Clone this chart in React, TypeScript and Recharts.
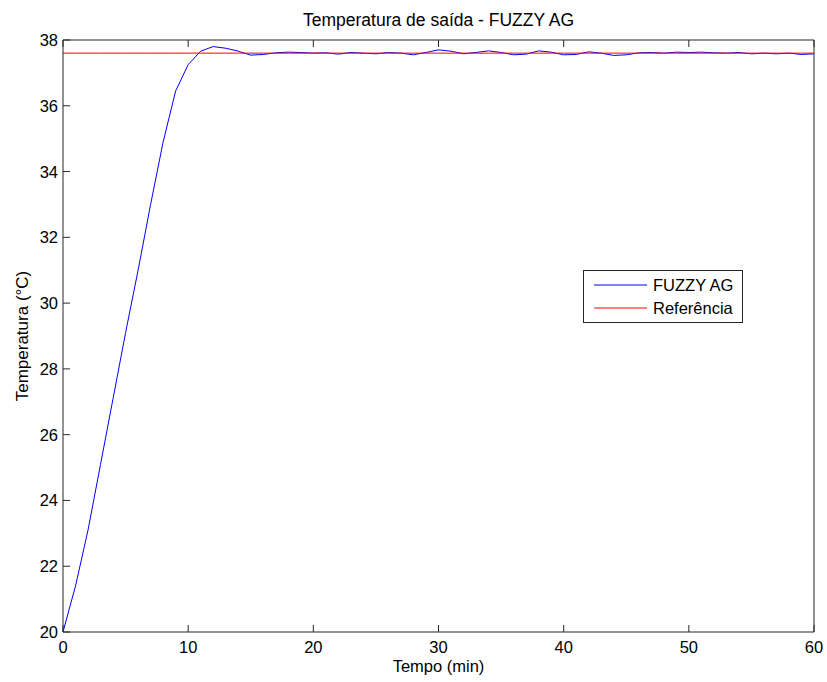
import { LineChart, Line, XAxis, YAxis, Legend } from "recharts"

const times = [
  0, 1, 2, 3, 4, 5, 6, 7, 8, 9, 10, 11, 12, 13, 14, 15, 16, 17, 18, 19, 20,
  21, 22, 23, 24, 25, 26, 27, 28, 29, 30, 31, 32, 33, 34, 35, 36, 37, 38, 39, 40,
  41, 42, 43, 44, 45, 46, 47, 48, 49, 50, 51, 52, 53, 54, 55, 56, 57, 58, 59, 60,
]

const fuzzyAg = [
  20.0, 21.4, 23.1, 25.1, 27.1, 29.1, 31.0, 33.0, 34.9, 36.45, 37.25,
  37.66, 37.8, 37.75, 37.66, 37.54, 37.56, 37.61, 37.63, 37.62, 37.6,
  37.61, 37.57, 37.62, 37.6, 37.58, 37.62, 37.6, 37.55, 37.62, 37.7,
  37.66, 37.58, 37.62, 37.67, 37.62, 37.55, 37.57, 37.67, 37.63, 37.55,
  37.56, 37.64, 37.6, 37.53, 37.55, 37.61, 37.62, 37.6, 37.63, 37.62,
  37.63, 37.61, 37.6, 37.62, 37.58, 37.6, 37.58, 37.6, 37.56, 37.58,
]

const referencia = times.map(() => 37.6)

const xTicks = [0, 10, 20, 30, 40, 50, 60]
const yTicks = [20, 22, 24, 26, 28, 30, 32, 34, 36, 38]

const data = times.map((t, i) => ({ t, fuzzy: fuzzyAg[i], ref: referencia[i] }))

const FONT = "'Liberation Sans', Arial, sans-serif"
const AXIS = "#262626"
const FS = 16.5

const LeftTick = ({ x, y, payload }: any) => (
  <g>
    <line x1={x + 5} x2={x + 12} y1={y} y2={y} stroke={AXIS} />
    <text x={x} y={y} dy={6} textAnchor="end" fontSize={FS} fill="#000" fontFamily={FONT}>
      {payload.value}
    </text>
  </g>
)

const RightTick = ({ x, y }: any) => <line x1={x} x2={x - 7} y1={y} y2={y} stroke={AXIS} />

const BottomTick = ({ x, y, payload }: any) => (
  <g>
    <line x1={x} x2={x} y1={y - 9} y2={y - 16} stroke={AXIS} />
    <text x={x} y={y} dy={12} textAnchor="middle" fontSize={FS} fill="#000" fontFamily={FONT}>
      {payload.value}
    </text>
  </g>
)

const TopTick = ({ x, y }: any) => <line x1={x} x2={x} y1={y} y2={y + 7} stroke={AXIS} />

const LegendBox = ({ payload }: any) => (
  <div
    style={{
      width: 158,
      height: 51,
      border: `1px solid ${AXIS}`,
      background: "#fff",
      fontFamily: FONT,
      fontSize: FS,
      position: "relative",
    }}
  >
    {(payload || []).map((p: any, i: number) => (
      <div key={p.value} style={{ position: "absolute", left: 0, top: 4 + i * 23, height: 20, display: "flex", alignItems: "center" }}>
        <svg width={64} height={20}>
          <line x1={10} x2={63} y1={10} y2={10} stroke={p.color} />
        </svg>
        <span style={{ marginLeft: 5, color: "#000" }}>{p.value}</span>
      </div>
    ))}
  </div>
)

export default function App() {
  return (
    <div style={{ position: "absolute", left: 0, top: 0, background: "#fff" }}>
      <LineChart width={827} height={682} data={data} margin={{ top: 39, right: 12, bottom: 0, left: 0 }}>
        <XAxis
          dataKey="t"
          type="number"
          domain={[0, 60]}
          ticks={xTicks}
          height={50}
          tickLine={false}
          tickSize={0}
          tickMargin={9}
          tick={<BottomTick />}
          stroke={AXIS}
          label={{ value: "Tempo (min)", position: "insideBottom", offset: 10, fontSize: FS, fill: "#000", fontFamily: FONT }}
        />
        <XAxis
          xAxisId="top"
          orientation="top"
          dataKey="t"
          type="number"
          domain={[0, 60]}
          ticks={xTicks}
          height={1}
          tickLine={false}
          tickSize={0}
          tickMargin={0}
          tick={<TopTick />}
          stroke={AXIS}
          label={{ value: "Temperatura de saída - FUZZY AG", position: "top", offset: 13, fontSize: 17.5, fill: "#000", fontFamily: FONT }}
        />
        <YAxis
          type="number"
          domain={[20, 38]}
          ticks={yTicks}
          width={63}
          tickLine={false}
          tickSize={0}
          tickMargin={5}
          tick={<LeftTick />}
          stroke={AXIS}
          label={{
            value: "Temperatura (°C)",
            angle: -90,
            position: "insideLeft",
            offset: 22,
            fontSize: 17,
            fill: "#000",
            fontFamily: FONT,
            style: { textAnchor: "middle" },
          }}
        />
        <YAxis
          yAxisId="right"
          orientation="right"
          type="number"
          domain={[20, 38]}
          ticks={yTicks}
          width={1}
          tickLine={false}
          tickSize={0}
          tickMargin={0}
          tick={<RightTick />}
          stroke={AXIS}
        />
        <Legend
          verticalAlign="middle"
          align="center"
          wrapperStyle={{ position: "absolute", left: 583, top: 270, width: 160 }}
          content={<LegendBox />}
        />
        <Line dataKey="fuzzy" name="FUZZY AG" stroke="#0000ff" strokeWidth={1} dot={false} isAnimationActive={false} />
        <Line dataKey="ref" name="Referência" stroke="#ff0000" strokeWidth={1} dot={false} isAnimationActive={false} />
      </LineChart>
    </div>
  )
}
